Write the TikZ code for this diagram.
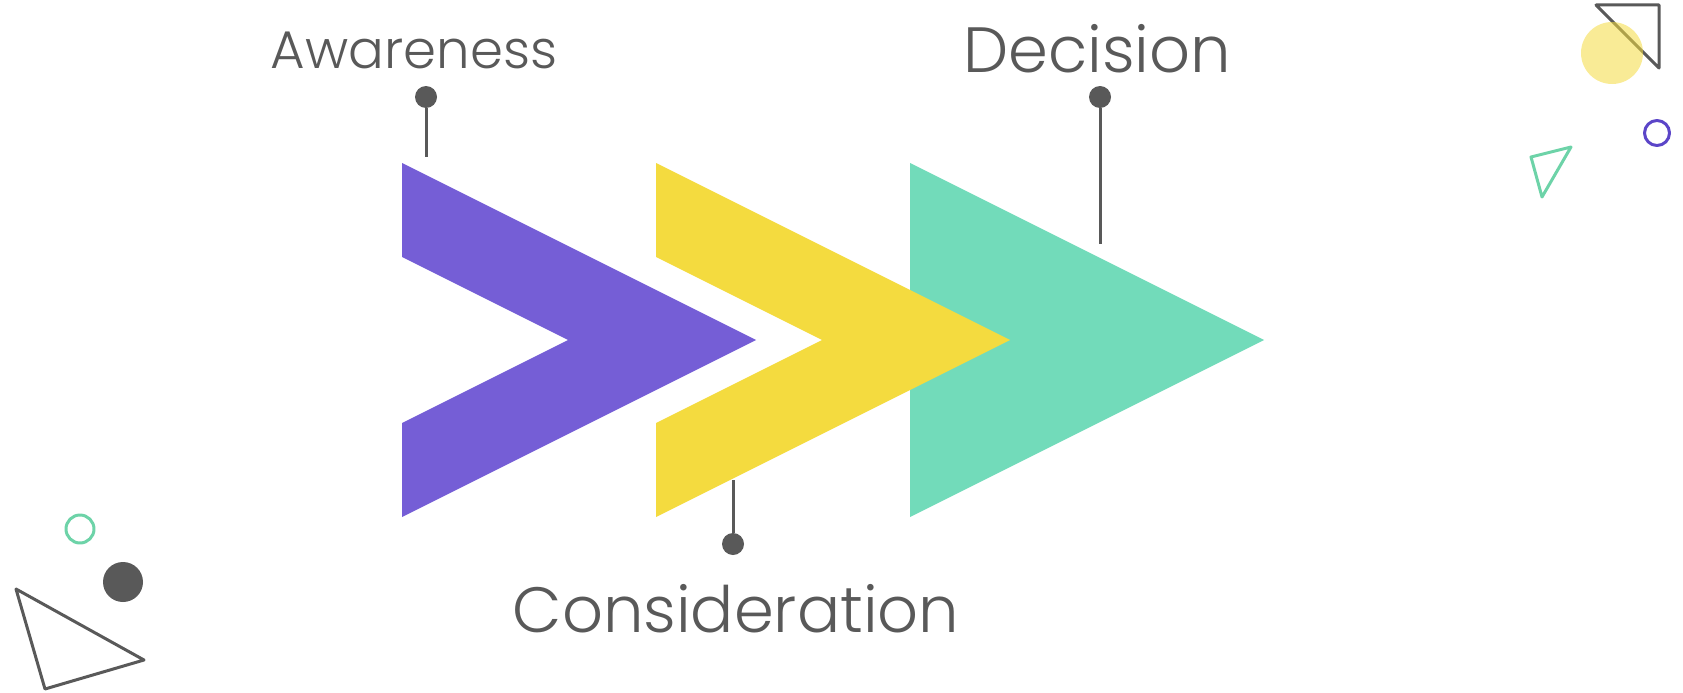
\documentclass[tikz,border=0pt]{standalone}
\usepackage{fontspec}
\newfontfamily\labelfont{Poppins Light}
\begin{document}
\definecolor{inkgray}{HTML}{595959}
\definecolor{violet}{HTML}{755ED6}
\definecolor{sun}{HTML}{F4DB3F}
\definecolor{mint}{HTML}{72DBBA}
\definecolor{ring}{HTML}{5B45C8}
\definecolor{ringmint}{HTML}{6DD3A8}
\begin{tikzpicture}[x=1pt,y=-1pt,
  stagetext/.style={inner sep=0pt,anchor=base,text=inkgray,font=\labelfont},
  pin/.style={circle,fill=inkgray,inner sep=0pt,minimum size=22pt},
  stem/.style={draw=inkgray,line width=3pt},
  outline/.style={line width=3pt,line join=round,line cap=round}]
\path[use as bounding box] (0,0) rectangle (1683,693);

% funnel stages: green head, yellow and violet chevrons
\fill[mint] (910,163) -- (1264,340) -- (910,517) -- cycle;
\fill[sun] (656,163) -- (1010,340) -- (656,517) -- (656,423) -- (822,340) -- (656,257) -- cycle;
\fill[violet] (402,163) -- (756,340) -- (402,517) -- (402,423) -- (568,340) -- (402,257) -- cycle;

% labels
\node[stagetext,font=\labelfont\fontsize{53}{56}\selectfont] (aware) at (414,69) {Awareness};
\node[stagetext,font=\labelfont\fontsize{64}{68}\selectfont] (decide) at (1097,73) {Decision};
\node[stagetext,font=\labelfont\fontsize{64}{68}\selectfont] (consider) at (736,632) {Consideration};

% pins and stems
\node[pin] (awaredot) at (426,97) {};
\coordinate (awareend) at (426,157);
\draw[stem] (awaredot) -- (awareend);

\node[pin] (decidedot) at (1100,97) {};
\coordinate (decideend) at (1100,244);
\draw[stem] (decidedot) -- (decideend);

\node[pin] (considerdot) at (733,544) {};
\coordinate (considerend) at (733,480);
\draw[stem] (considerdot) -- (considerend);

% corner ornaments, top right
\draw[outline,draw=inkgray] (1596,5) -- (1659,5) -- (1659,68) -- cycle;
\fill[sun,opacity=0.55] (1612,53) circle (31);
\draw[outline,draw=ring] (1657,133) circle (12.5);
\draw[outline,draw=ringmint] (1531,157) -- (1571,147) -- (1542,197) -- cycle;

% corner ornaments, bottom left
\draw[outline,draw=ringmint] (80,529) circle (14);
\fill[inkgray] (123,582) circle (20);
\draw[outline,draw=inkgray] (16,589) -- (144,660) -- (45,689) -- cycle;
\end{tikzpicture}
\end{document}
